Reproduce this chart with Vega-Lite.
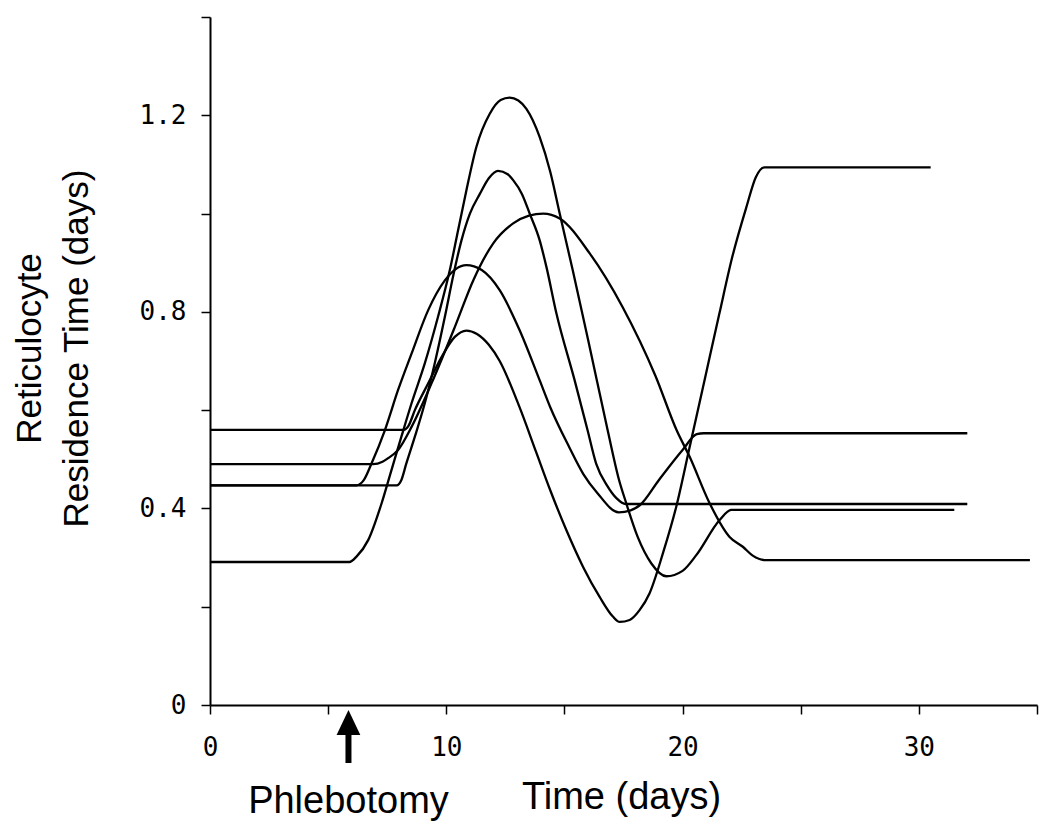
{
  "$schema": "https://vega.github.io/schema/vega-lite/v6.json",
  "width": 827,
  "height": 688,
  "autosize": {"type": "none"},
  "padding": {"left": 210, "top": 17, "right": 13, "bottom": 133},
  "background": "white",
  "config": {"view": {"stroke": null}},
  "datasets": {
    "curves": [
      {"s":"A","t":0,"v":0.447},{"s":"A","t":6.2,"v":0.447},{"s":"A","t":6.5,"v":0.457},{"s":"A","t":6.84,"v":0.492},{"s":"A","t":7.4,"v":0.559},{"s":"A","t":7.96,"v":0.641},{"s":"A","t":8.53,"v":0.715},{"s":"A","t":9.23,"v":0.803},{"s":"A","t":9.94,"v":0.864},{"s":"A","t":10.4,"v":0.887},{"s":"A","t":10.85,"v":0.895},{"s":"A","t":11.5,"v":0.885},{"s":"A","t":12.26,"v":0.844},{"s":"A","t":13.1,"v":0.763},{"s":"A","t":13.95,"v":0.661},{"s":"A","t":14.4,"v":0.606},{"s":"A","t":15.2,"v":0.525},{"s":"A","t":15.8,"v":0.47},{"s":"A","t":16.4,"v":0.431},{"s":"A","t":17.3,"v":0.392},{"s":"A","t":17.8,"v":0.396},{"s":"A","t":18.2,"v":0.407},{"s":"A","t":19.0,"v":0.458},{"s":"A","t":20.0,"v":0.519},{"s":"A","t":20.6,"v":0.551},{"s":"A","t":20.9,"v":0.553},{"s":"A","t":32.05,"v":0.553},
      {"s":"B","t":0,"v":0.49},{"s":"B","t":6.9,"v":0.49},{"s":"B","t":7.3,"v":0.495},{"s":"B","t":7.53,"v":0.502},{"s":"B","t":7.96,"v":0.519},{"s":"B","t":8.53,"v":0.566},{"s":"B","t":9.37,"v":0.654},{"s":"B","t":10.36,"v":0.769},{"s":"B","t":11.15,"v":0.865},{"s":"B","t":11.98,"v":0.939},{"s":"B","t":12.83,"v":0.98},{"s":"B","t":13.5,"v":0.996},{"s":"B","t":14.1,"v":1.0},{"s":"B","t":14.8,"v":0.99},{"s":"B","t":16.07,"v":0.919},{"s":"B","t":17.46,"v":0.81},{"s":"B","t":18.85,"v":0.67},{"s":"B","t":19.75,"v":0.559},{"s":"B","t":20.3,"v":0.505},{"s":"B","t":21.14,"v":0.411},{"s":"B","t":21.99,"v":0.342},{"s":"B","t":22.55,"v":0.322},{"s":"B","t":22.97,"v":0.304},{"s":"B","t":23.47,"v":0.295},{"s":"B","t":34.7,"v":0.295},
      {"s":"C","t":0,"v":0.56},{"s":"C","t":8.2,"v":0.56},{"s":"C","t":8.4,"v":0.568},{"s":"C","t":8.67,"v":0.6},{"s":"C","t":9.23,"v":0.654},{"s":"C","t":9.8,"v":0.708},{"s":"C","t":10.36,"v":0.749},{"s":"C","t":10.85,"v":0.762},{"s":"C","t":11.3,"v":0.755},{"s":"C","t":11.8,"v":0.733},{"s":"C","t":12.26,"v":0.7},{"s":"C","t":13.1,"v":0.606},{"s":"C","t":13.8,"v":0.515},{"s":"C","t":14.4,"v":0.437},{"s":"C","t":15.08,"v":0.356},{"s":"C","t":15.79,"v":0.281},{"s":"C","t":16.49,"v":0.22},{"s":"C","t":17.05,"v":0.18},{"s":"C","t":17.34,"v":0.169},{"s":"C","t":17.76,"v":0.173},{"s":"C","t":18.18,"v":0.193},{"s":"C","t":18.6,"v":0.227},{"s":"C","t":19.17,"v":0.309},{"s":"C","t":19.73,"v":0.403},{"s":"C","t":20.3,"v":0.525},{"s":"C","t":20.93,"v":0.661},{"s":"C","t":21.56,"v":0.797},{"s":"C","t":22.1,"v":0.911},{"s":"C","t":22.7,"v":1.013},{"s":"C","t":23.1,"v":1.074},{"s":"C","t":23.47,"v":1.094},{"s":"C","t":30.5,"v":1.094},
      {"s":"D","t":0,"v":0.291},{"s":"D","t":5.9,"v":0.291},{"s":"D","t":6.2,"v":0.302},{"s":"D","t":6.7,"v":0.336},{"s":"D","t":7.26,"v":0.41},{"s":"D","t":7.68,"v":0.478},{"s":"D","t":8.1,"v":0.546},{"s":"D","t":8.53,"v":0.614},{"s":"D","t":9.09,"v":0.695},{"s":"D","t":9.65,"v":0.79},{"s":"D","t":10.15,"v":0.885},{"s":"D","t":10.5,"v":0.966},{"s":"D","t":10.85,"v":1.047},{"s":"D","t":11.27,"v":1.135},{"s":"D","t":11.84,"v":1.203},{"s":"D","t":12.3,"v":1.231},{"s":"D","t":12.68,"v":1.236},{"s":"D","t":13.05,"v":1.23},{"s":"D","t":13.39,"v":1.213},{"s":"D","t":13.95,"v":1.156},{"s":"D","t":14.4,"v":1.085},{"s":"D","t":14.8,"v":1.0},{"s":"D","t":15.35,"v":0.885},{"s":"D","t":16.07,"v":0.728},{"s":"D","t":16.83,"v":0.559},{"s":"D","t":17.3,"v":0.46},{"s":"D","t":17.62,"v":0.41},{"s":"D","t":18.1,"v":0.342},{"s":"D","t":18.68,"v":0.288},{"s":"D","t":19.31,"v":0.262},{"s":"D","t":20.0,"v":0.273},{"s":"D","t":20.58,"v":0.305},{"s":"D","t":21.56,"v":0.376},{"s":"D","t":22.06,"v":0.397},{"s":"D","t":31.5,"v":0.397},
      {"s":"E","t":0,"v":0.447},{"s":"E","t":7.9,"v":0.447},{"s":"E","t":8.1,"v":0.458},{"s":"E","t":8.3,"v":0.49},{"s":"E","t":8.67,"v":0.546},{"s":"E","t":9.09,"v":0.614},{"s":"E","t":9.51,"v":0.695},{"s":"E","t":9.94,"v":0.79},{"s":"E","t":10.3,"v":0.875},{"s":"E","t":10.64,"v":0.945},{"s":"E","t":11.0,"v":1.0},{"s":"E","t":11.42,"v":1.04},{"s":"E","t":11.8,"v":1.072},{"s":"E","t":12.19,"v":1.087},{"s":"E","t":12.6,"v":1.08},{"s":"E","t":12.83,"v":1.068},{"s":"E","t":13.2,"v":1.04},{"s":"E","t":13.53,"v":1.0},{"s":"E","t":13.95,"v":0.946},{"s":"E","t":14.24,"v":0.891},{"s":"E","t":14.66,"v":0.797},{"s":"E","t":15.43,"v":0.661},{"s":"E","t":15.98,"v":0.559},{"s":"E","t":16.35,"v":0.49},{"s":"E","t":16.8,"v":0.447},{"s":"E","t":17.2,"v":0.421},{"s":"E","t":17.6,"v":0.409},{"s":"E","t":32.05,"v":0.409}
    ],
    "note": [
      {"t": 5.86, "y0": -0.118, "y1": -0.047, "ya": -0.0356, "yt": -0.2196, "label": "Phlebotomy"}
    ]
  },
  "layer": [
    {
      "data": {"name": "curves"},
      "mark": {"type": "line", "interpolate": "monotone", "color": "black", "strokeWidth": 2.3},
      "encoding": {
        "x": {
          "field": "t", "type": "quantitative", "title": "Time (days)",
          "scale": {"domain": [0, 35], "nice": false, "zero": false},
          "axis": {
            "values": [0, 5, 10, 15, 20, 25, 30, 35],
            "labelExpr": "(datum.value % 10 == 0 && datum.value < 35) ? format(datum.value, 'd') : ''",
            "grid": false, "tickSize": 9, "tickWidth": 1.5, "tickColor": "black",
            "domainColor": "black", "domainWidth": 2,
            "labelFont": "DejaVu Sans Mono", "labelFontSize": 26, "labelColor": "black",
            "labelPadding": 20, "labelFlush": false, "labelOverlap": false,
            "titleFont": "Liberation Sans", "titleFontSize": 38,
            "titleFontWeight": "normal", "titleColor": "black",
            "titleX": 411, "titleY": 103, "titleAlign": "center", "titleBaseline": "alphabetic"
          }
        },
        "y": {
          "field": "v", "type": "quantitative", "title": ["Reticulocyte", "Residence Time (days)"],
          "scale": {"domain": [0, 1.4], "nice": false},
          "axis": {
            "values": [0, 0.2, 0.4, 0.6, 0.8, 1.0, 1.2, 1.4],
            "labelExpr": "datum.value < 0.001 ? '0' : (abs(datum.value * 2.5 - round(datum.value * 2.5)) < 0.01 ? format(datum.value, '.1f') : '')",
            "grid": false, "tickSize": 9, "tickWidth": 1.5, "tickColor": "black",
            "domainColor": "black", "domainWidth": 2,
            "labelFont": "DejaVu Sans Mono", "labelFontSize": 26, "labelColor": "black",
            "labelPadding": 15, "labelFlush": false, "labelOverlap": false,
            "titleFont": "Liberation Sans", "titleFontSize": 35, "titleFontWeight": "normal",
            "titleColor": "black", "titleAngle": -90, "titleX": -170, "titleY": 331,
            "titleAlign": "center", "titleBaseline": "alphabetic", "titleLineHeight": 47
          }
        },
        "detail": {"field": "s"}
      }
    },
    {
      "data": {"name": "note"},
      "mark": {"type": "rule", "strokeWidth": 6, "color": "black"},
      "encoding": {
        "x": {"field": "t", "type": "quantitative", "title": "Time (days)"},
        "y": {"field": "y0", "type": "quantitative", "title": ["Reticulocyte", "Residence Time (days)"]},
        "y2": {"field": "y1"}
      }
    },
    {
      "data": {"name": "note"},
      "mark": {"type": "point", "shape": "M0,-1L0.95,1L-0.95,1Z", "filled": true, "color": "black", "size": 625, "opacity": 1, "strokeWidth": 0},
      "encoding": {
        "x": {"field": "t", "type": "quantitative", "title": "Time (days)"},
        "y": {"field": "ya", "type": "quantitative", "title": ["Reticulocyte", "Residence Time (days)"]}
      }
    },
    {
      "data": {"name": "note"},
      "mark": {"type": "text", "font": "Liberation Sans", "fontSize": 38, "align": "center", "baseline": "alphabetic", "color": "black"},
      "encoding": {
        "x": {"field": "t", "type": "quantitative", "title": "Time (days)"},
        "y": {"field": "yt", "type": "quantitative", "title": ["Reticulocyte", "Residence Time (days)"]},
        "text": {"field": "label"}
      }
    }
  ]
}
